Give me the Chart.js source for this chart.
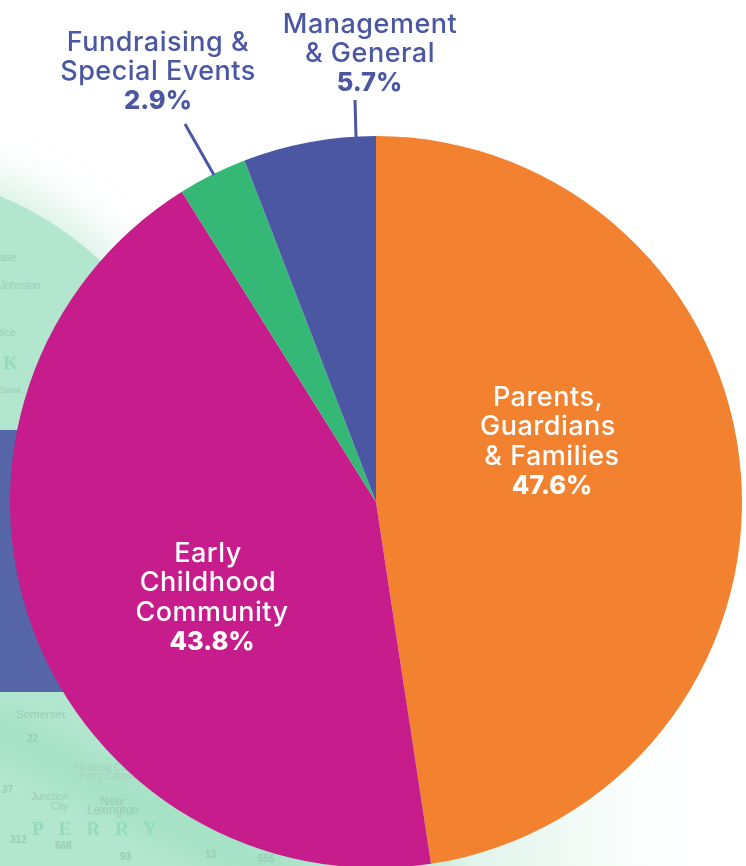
<!DOCTYPE html>
<html><head><meta charset="utf-8">
<style>
html,body{margin:0;padding:0;background:#fff;width:746px;height:866px;overflow:hidden}
#stage{position:relative;width:746px;height:866px;overflow:hidden}
.bg{position:absolute}
#circle{left:-440px;top:173px;width:640px;height:640px;border-radius:50%;background:#b3e6cf;box-shadow:0 -6px 40px 12px rgba(179,230,207,.5)}
#lower{left:0;top:690px;width:746px;height:176px;background:linear-gradient(90deg,#b3e6cf 0,#b3e6cf 400px,#dff4ea 470px,#f6fcf9 600px,#fff 700px)}
#band{left:-40px;top:780px;width:360px;height:50px;background:rgba(150,222,188,.45);transform:rotate(28deg);filter:blur(10px)}
#rect{left:0;top:430px;width:120px;height:262px;background:#5565a8}
.m{position:absolute;font-family:"Liberation Sans",sans-serif;font-size:11px;color:#9accb5;white-space:nowrap}
.b{font-family:"Liberation Serif",serif;font-weight:700;font-size:19px;color:#93dcba;letter-spacing:15px}
canvas{position:absolute;left:0;top:0}
</style></head>
<body><div id="stage">
<div class="bg" id="circle"></div>
<div class="bg" id="lower"></div>
<div class="bg" id="band"></div>
<div class="bg" id="rect"></div>
<span class="m" style="left:0;top:252px;font-size:10px">ase</span>
<span class="m" style="left:0;top:280px;font-size:10px">Johnston</span>
<span class="m" style="left:0;top:327px;font-size:10px">tice</span>
<span class="m b" style="left:3px;top:352px;letter-spacing:0">K</span>
<span class="m" style="left:0;top:385px;font-size:9px">Saint</span>
<span class="m" style="left:16px;top:708px;font-size:11.5px">Somerset</span>
<span class="m" style="left:27px;top:733px;font-size:10px;font-weight:700">22</span>
<span class="m" style="left:75px;top:762px;font-size:10px;color:#a6d2bd">Hocking College</span>
<span class="m" style="left:79px;top:770px;font-size:10px;color:#a6d2bd">Perry Campus</span>
<span class="m" style="left:100px;top:794px;font-size:12px">New</span>
<span class="m" style="left:87px;top:803px;font-size:12px">Lexington</span>
<span class="m" style="left:31px;top:791px;font-size:10px">Junction</span>
<span class="m" style="left:51px;top:801px;font-size:10px">City</span>
<span class="m" style="left:2px;top:784px;font-size:10px;font-weight:700">37</span>
<span class="m" style="left:10px;top:834px;font-size:10px;font-weight:700">312</span>
<span class="m" style="left:55px;top:840px;font-size:10px;font-weight:700">668</span>
<span class="m" style="left:120px;top:851px;font-size:10px;font-weight:700">93</span>
<span class="m" style="left:205px;top:849px;font-size:10px;font-weight:700">13</span>
<span class="m" style="left:258px;top:853px;font-size:10px;font-weight:700">555</span>
<span class="m b" style="left:32px;top:818px">PERRY</span>
<canvas id="c" width="746" height="880" style="width:746px;height:880px"></canvas>
</div>
<script src="https://cdn.jsdelivr.net/npm/chart.js@4/dist/chart.umd.min.js"></script>
<script>
const categories = ["Parents, Guardians & Families","Early Childhood Community","Fundraising & Special Events","Management & General"];
const sliceShares = [47.6,43.5,3.05,5.85];
const colors = ["#F28130","#C71C8B","#35B776","#4B57A3"];
const percentLabels = ["47.6%","43.8%","2.9%","5.7%"];
const labelLines = [["Parents,","Guardians","& Families"],["Early","Childhood","Community"],["Fundraising &","Special Events"],["Management","& General"]];
const labelColors = ["#ffffff","#ffffff","#4B57A3","#4B57A3"];
const lineCentres = [[548,548,552,552],[208,208,212,212],[158,158,158],[370,370,369.5]];
const labelTops = [398,554,43,25];
const leaders = [null,null,[185,124,214,175],[355,100,356,137]];
const lineGap = 29.3;
const fontFam = 'Inter, "Open Sans", sans-serif';

const annot = {
  id:'annot',
  afterDatasetsDraw(chart){
    const ctx = chart.ctx;
    ctx.save();
    ctx.textAlign='center'; ctx.textBaseline='middle';
    labelLines.forEach((lines,i)=>{
      const y0=labelTops[i], xs=lineCentres[i];
      ctx.fillStyle=labelColors[i];
      ctx.font='500 27px '+fontFam;
      ctx.letterSpacing='0.5px';
      lines.forEach((t,k)=>ctx.fillText(t,xs[k],y0+k*lineGap));
      ctx.font='800 25.5px '+fontFam;
      ctx.letterSpacing='0px';
      ctx.fillText(percentLabels[i],xs[lines.length],y0+lines.length*lineGap);
      const l=leaders[i];
      if(l){ctx.strokeStyle=colors[3];ctx.lineWidth=3;ctx.beginPath();ctx.moveTo(l[0],l[1]);ctx.lineTo(l[2],l[3]);ctx.stroke();}
    });
    ctx.restore();
  }
};
new Chart(document.getElementById('c'),{
  type:'pie',
  data:{labels:categories,datasets:[{data:sliceShares,backgroundColor:colors,borderWidth:0}]},
  options:{
    responsive:false,animation:false,
    layout:{padding:{left:10,right:4,top:136,bottom:12}},
    plugins:{legend:{display:false},tooltip:{enabled:false},title:{display:false}}
  },
  plugins:[annot]
});
</script>
</body></html>
